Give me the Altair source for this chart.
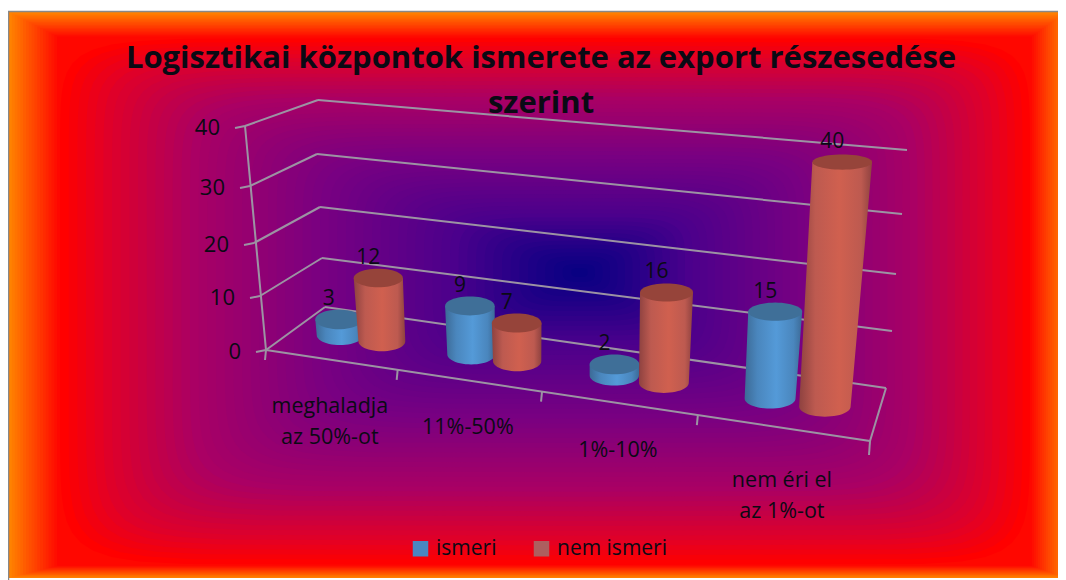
import numpy as np
import pandas as pd
import altair as alt

alt.data_transformers.disable_max_rows()

# ---- chart content
TITLE = ["Logisztikai központok ismerete az export részesedése", "szerint"]
CATEGORIES = [["meghaladja", "az 50%-ot"], ["11%-50%"], ["1%-10%"], ["nem éri el", "az 1%-ot"]]
SERIES = ["ismeri", "nem ismeri"]
ISMERI = [3, 9, 2, 15]
NEM_ISMERI = [12, 7, 16, 40]
Z_TICKS = [0, 10, 20, 30, 40]
FONT = "Open Sans"

# ---- projection of the 3D box (reference pixel space)
FL = [[266, 260, 254, 250, 245], [350, 296, 243, 186, 126]]
BL = [[325, 322, 320, 317, 318], [307, 258, 207, 154, 100]]
BR = [[886, 892, 896, 902, 907], [388, 331, 274, 214, 150]]
FR = [[870, 875, 880, 885, 890], [441, 379, 318, 253, 184]]
S_STOPS = [0, .25, .5, .75, 1]
U_STOPS = [0, .218, .457, .715, 1]


def corner(c, z):
    return np.array([np.interp(z, Z_TICKS, c[0]), np.interp(z, Z_TICKS, c[1])])


def project(cat_pos, depth, z):
    u = np.interp(cat_pos / 4, S_STOPS, U_STOPS)
    front = corner(FL, z) * (1 - u) + corner(FR, z) * u
    back = corner(BL, z) * (1 - u) + corner(BR, z) * u
    return front * (1 - depth) + back * depth, u


X = alt.Scale(domain=[8, 1058], range=[0, 1050])
Y = alt.Scale(domain=[8, 580], range=[0, 572])
ax = dict(axis=None, scale=X)
ay = dict(axis=None, scale=Y)
layers = []

# ---- background: outer band (orange to red), then centre glow
OUT = (9, 12, 1066, 578)
RED = (60, 38, 1030, 565)
rows = []
N = 18
for i in range(N):
    t = i / N
    box = [OUT[k] + (RED[k] - OUT[k]) * t for k in range(4)]
    rows.append(dict(x=box[0], x2=box[2], y=box[1], y2=box[3],
                     c=f"rgb(255,{int(130 * (1 - t))},0)"))
layers.append(alt.Chart(pd.DataFrame(rows)).mark_rect(clip=True).encode(
    x=alt.X("x:Q", **ax), x2="x2:Q", y=alt.Y("y:Q", **ay), y2="y2:Q",
    color=alt.Color("c:N", scale=None)))

CX, CY = 580, 272
COL_T = [0, .12, .25, .5, .75, .92, 1]
COL_R = [5, 35, 75, 120, 170, 225, 255]
COL_B = [130, 135, 140, 130, 100, 40, 0]
rows = []
M = 60
theta = np.linspace(0, 1, 41)
for j in range(M):
    t = 1 - j / M
    n = 3 + 9 * t
    col = f"rgb({int(np.interp(t, COL_T, COL_R))},0,{int(np.interp(t, COL_T, COL_B))})"
    ys = np.sin((theta - .5) * np.pi)
    for s in ys:
        b = (CY - RED[1]) if s < 0 else (RED[3] - CY)
        half = (1 - abs(s) ** n) ** (1 / n)
        rows.append(dict(y=CY + s * b * t,
                         x=CX - (CX - RED[0]) * t * half,
                         x2=CX + (RED[2] - CX) * t * half, c=f"{j:02d}|{col}"))
df = pd.DataFrame(rows)
df["col"] = df.c.str.split("|").str[1]
layers.append(alt.Chart(df).mark_area(orient="horizontal").encode(
    y=alt.Y("y:Q", **ay), x=alt.X("x:Q", **ax), x2="x2:Q",
    color=alt.Color("col:N", scale=None), detail="c:N"))

# frame line
layers.append(alt.Chart(pd.DataFrame([dict(x=8, x2=1058, y=11.5), ])).mark_rule(color="#888888", strokeWidth=1.5).encode(
    x=alt.X("x:Q", **ax), x2="x2:Q", y=alt.Y("y:Q", **ay)))
layers.append(alt.Chart(pd.DataFrame([dict(x=8.5, y=11, y2=580), ])).mark_rule(color="#888888", strokeWidth=1.5).encode(
    x=alt.X("x:Q", **ax), y=alt.Y("y:Q", **ay), y2="y2:Q"))

# ---- box lines and ticks
segs = []
def seg(a, b):
    segs.append(dict(x=a[0], y=a[1], x2=b[0], y2=b[1]))

for z in Z_TICKS:
    fl, bl, br = corner(FL, z), corner(BL, z), corner(BR, z)
    seg(fl, bl)
    seg(bl, br)
    seg(fl, fl + [-10, 2])
    if z == 0:
        seg(fl, corner(FR, 0))
        seg(corner(FR, 0), br)
seg(corner(FL, 0), corner(FL, 40))
for c in range(5):
    p, _ = project(c, 0, 0)
    seg(p, p + [-1, 10 if c < 4 else 14])
layers.append(alt.Chart(pd.DataFrame(segs)).mark_rule(color="#9c93a3", strokeWidth=2).encode(
    x=alt.X("x:Q", **ax), x2="x2:Q", y=alt.Y("y:Q", **ay), y2="y2:Q"))

# ---- cylinders
STYLES = {
    0: dict(top="#3f6f98", stops=["#3c6a96", "#4a86bd", "#549ad8", "#4a86bd", "#3c6a96"]),
    1: dict(top="#96443a", stops=["#8e4240", "#bd5a50", "#d0604f", "#bd5a50", "#8e4240"]),
}
OFFS = [.35, .68]
labels = []
for i in range(4):
    for s, vals in enumerate([ISMERI, NEM_ISMERI]):
        v = vals[i]
        base, u = project(i + OFFS[s], .5, 0)
        top, _ = project(i + OFFS[s], .5, v)
        rb = 23 + 3 * u
        rt = rb * (1 + .004 * v)
        ryb, ryt = 10, 10 - .06 * v
        body = []
        for k in np.linspace(0, 1, 8):
            body.append(dict(y=top[1] + (base[1] - top[1]) * k,
                             x=top[0] - rt + (base[0] - rb - top[0] + rt) * k,
                             x2=top[0] + rt + (base[0] + rb - top[0] - rt) * k))
        for a in np.linspace(0, np.pi / 2, 14)[1:]:
            body.append(dict(y=base[1] + ryb * np.sin(a), x=base[0] - rb * np.cos(a), x2=base[0] + rb * np.cos(a)))
        cap = []
        for a in np.linspace(-np.pi / 2, np.pi / 2, 27):
            cap.append(dict(y=top[1] + ryt * np.sin(a), x=top[0] - rt * np.cos(a), x2=top[0] + rt * np.cos(a)))
        st = STYLES[s]
        grad = dict(gradient="linear", x1=0, x2=1, y1=0, y2=0,
                    stops=[dict(offset=o, color=c) for o, c in zip([0, .22, .55, .85, 1], st["stops"])])
        layers.append(alt.Chart(pd.DataFrame(body)).mark_area(orient="horizontal", color=grad).encode(
            y=alt.Y("y:Q", **ay), x=alt.X("x:Q", **ax), x2="x2:Q"))
        layers.append(alt.Chart(pd.DataFrame(cap)).mark_area(orient="horizontal", color=st["top"]).encode(
            y=alt.Y("y:Q", **ay), x=alt.X("x:Q", **ax), x2="x2:Q"))
        labels.append(dict(x=top[0] - 10, y=top[1] - 20, t=str(v)))

# ---- texts
layers.append(alt.Chart(pd.DataFrame(labels)).mark_text(font=FONT, fontSize=21, color="#0a0a14").encode(
    x=alt.X("x:Q", **ax), y=alt.Y("y:Q", **ay), text="t:N"))

zt = []
for z in Z_TICKS:
    p = corner(FL, z)
    zt.append(dict(x=p[0] - 25, y=p[1] + 2, t=str(z)))
layers.append(alt.Chart(pd.DataFrame(zt)).mark_text(font=FONT, fontSize=22, align="right", color="#0a0a14").encode(
    x=alt.X("x:Q", **ax), y=alt.Y("y:Q", **ay), text="t:N"))

ct = []
for i, lines in enumerate(CATEGORIES):
    p, u = project(i + .5, 0, 0)
    for k, line in enumerate(lines):
        ct.append(dict(x=p[0] - 2, y=p[1] + 47.5 + 20 * max(0, u - .6) + 31 * k, t=line))
layers.append(alt.Chart(pd.DataFrame(ct)).mark_text(font=FONT, fontSize=21.5, color="#0a0a14").encode(
    x=alt.X("x:Q", **ax), y=alt.Y("y:Q", **ay), text="t:N"))

# legend carrier
leg = pd.DataFrame(dict(x=[100, 100], y=[100, 100], s=SERIES))
layers.append(alt.Chart(leg).mark_square(size=0, opacity=1).encode(
    x=alt.X("x:Q", **ax), y=alt.Y("y:Q", **ay),
    color=alt.Color("s:N", scale=alt.Scale(domain=SERIES, range=["#4a87c2", "#ad5f5f"]),
                    legend=alt.Legend(title=None, orient="none", legendX=402, legendY=530, direction="horizontal",
                                      symbolType="square", symbolSize=240, symbolOpacity=1, labelFont=FONT,
                                      labelFontSize=21, labelColor="#0a0a14", columnPadding=34, labelOffset=5))))

chart = alt.layer(*layers).resolve_scale(color="independent").properties(
    width=1050, height=572, padding=0, autosize=alt.AutoSizeParams(type="none"),
    background="white",
    title=alt.TitleParams(TITLE, font=FONT, fontSize=31, fontWeight="bold", color="#0a0a14",
                          anchor="middle", lineHeight=45, dx=8, dy=116),
).configure_view(stroke=None)
chart.save("out.html", embed_options={"renderer": "svg", "actions": False})
